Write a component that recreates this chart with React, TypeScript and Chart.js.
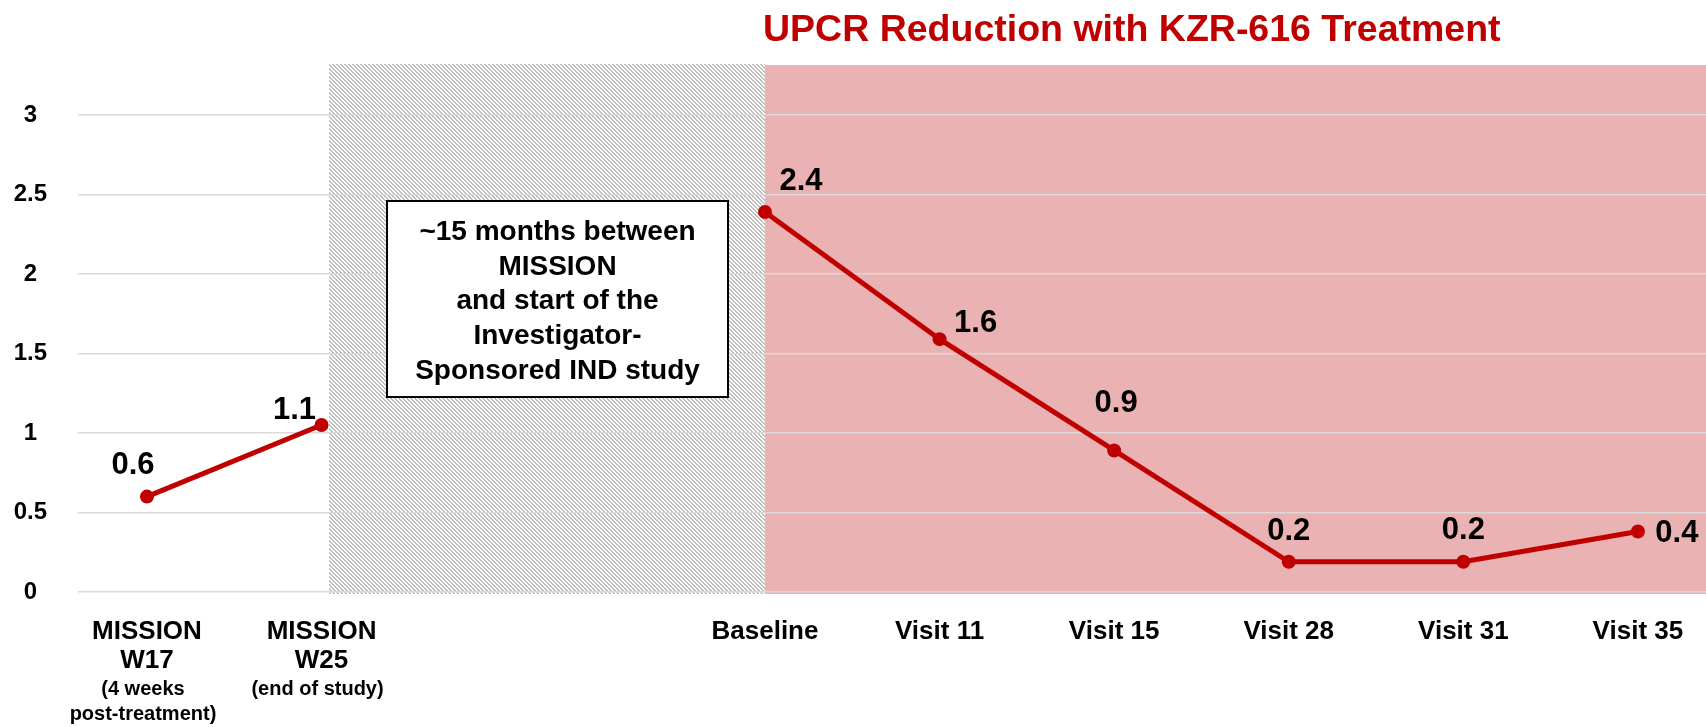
import React, { useEffect, useRef } from 'react';
import { Chart, registerables } from 'chart.js';

Chart.register(...registerables);

// ---------- data ----------
const categories: (string | string[])[] = [
  ['MISSION', 'W17'],
  ['MISSION', 'W25'],
  'Baseline',
  'Visit 11',
  'Visit 15',
  'Visit 28',
  'Visit 31',
  'Visit 35',
];
const categoryNotes: string[][] = [
  ['(4 weeks', 'post-treatment)'],
  ['(end of study)'],
  [], [], [], [], [], [],
];
// slot of each visit along the x axis (visit spacing = 1)
const xSlots = [0, 1, 3.54, 4.54, 5.54, 6.54, 7.54, 8.54];
const upcrValues = [0.6, 1.05, 2.39, 1.59, 0.89, 0.19, 0.19, 0.38];
const valueLabels = ['0.6', '1.1', '2.4', '1.6', '0.9', '0.2', '0.2', '0.4'];
const missionCount = 2; // first points belong to MISSION
const yTicks = [0, 0.5, 1, 1.5, 2, 2.5, 3];
const titleText = 'UPCR Reduction with KZR-616 Treatment';
const noteLines = ['~15 months between', 'MISSION', 'and start of the', 'Investigator-', 'Sponsored IND study'];

// ---------- styles ----------
const FONT = '"Liberation Sans", Arial, Helvetica, sans-serif';
const RED = '#C00000';
const PINK = '#EAB2B2';
const X_MIN = -0.395;
const X_MAX = 8.93;
const Y_MAX = 3.314;
const HATCH_START = 1.04;
// label offsets (dx, dy) in px relative to each point
const labelOffsets = [[-14, -31], [-27, -15], [36, -30], [36, -16], [2, -47], [0, -30], [0, -31], [39, 2]];

function makeHatch(ctx: CanvasRenderingContext2D) {
  const s = 4;
  const c = document.createElement('canvas');
  c.width = s;
  c.height = s;
  const g = c.getContext('2d')!;
  g.fillStyle = '#ffffff';
  g.fillRect(0, 0, s, s);
  g.fillStyle = '#BDBDBD';
  for (let yy = 0; yy < s; yy++) {
    for (let xx = 0; xx < s; xx++) {
      const d = (((xx - yy) % s) + s) % s;
      if (d === 0 || d === 1) g.fillRect(xx, yy, 1, 1);
    }
  }
  return ctx.createPattern(c, 'repeat');
}

const decorPlugin = {
  id: 'decor',
  beforeDraw(chart: any) {
    const { ctx, chartArea, scales } = chart;
    const x = scales.x;
    const hatchL = Math.round(x.getPixelForValue(HATCH_START));
    const baseX = Math.round(x.getPixelForValue(xSlots[missionCount]));
    const top = Math.round(chartArea.top);
    const bottom = Math.round(chartArea.bottom + 2);
    ctx.save();
    const pat = makeHatch(ctx);
    if (pat) ctx.fillStyle = pat;
    ctx.fillRect(hatchL, top - 1, baseX - hatchL, bottom - top + 1);
    ctx.fillStyle = PINK;
    ctx.fillRect(baseX, top, chartArea.right - baseX, bottom - top);
    ctx.restore();
  },
  afterDatasetsDraw(chart: any) {
    const { ctx } = chart;
    ctx.save();
    ctx.font = `bold 31px ${FONT}`;
    ctx.fillStyle = '#000';
    ctx.textAlign = 'center';
    ctx.textBaseline = 'middle';
    let gi = 0;
    chart.data.datasets.forEach((ds: any, di: number) => {
      const meta = chart.getDatasetMeta(di);
      meta.data.forEach((pt: any) => {
        const [dx, dy] = labelOffsets[gi];
        ctx.fillText(valueLabels[gi], pt.x + dx, pt.y + dy);
        gi++;
      });
    });
    ctx.restore();
  },
  afterDraw(chart: any) {
    const { ctx, chartArea, scales } = chart;
    const x = scales.x;
    ctx.save();
    // title
    ctx.font = `bold 37.5px ${FONT}`;
    ctx.fillStyle = RED;
    ctx.textAlign = 'left';
    ctx.textBaseline = 'alphabetic';
    ctx.fillText(titleText, x.getPixelForValue(xSlots[missionCount]) - 2, 41);

    // category notes
    ctx.font = `bold 20px ${FONT}`;
    ctx.fillStyle = '#000';
    ctx.textAlign = 'center';
    categoryNotes.forEach((lines, i) => {
      const px = x.getPixelForValue(xSlots[i]) - 4;
      lines.forEach((ln, j) => {
        ctx.fillText(ln, px, chartArea.bottom + 103 + j * 25);
      });
    });

    // note box
    const bx = 387, by = 201, bw = 341, bh = 196;
    ctx.fillStyle = '#ffffff';
    ctx.fillRect(bx, by, bw, bh);
    ctx.strokeStyle = '#000';
    ctx.lineWidth = 2;
    ctx.strokeRect(bx, by, bw, bh);
    ctx.fillStyle = '#000';
    ctx.font = `bold 28px ${FONT}`;
    noteLines.forEach((ln, i) => {
      ctx.fillText(ln, bx + bw / 2, 240 + i * 34.7);
    });
    ctx.restore();
  },
};

export default function App() {
  const ref = useRef<HTMLCanvasElement>(null);
  useEffect(() => {
    const pts = xSlots.map((xv, i) => ({ x: xv, y: upcrValues[i] }));
    const lineStyle = {
      borderColor: RED,
      backgroundColor: RED,
      borderWidth: 5,
      pointRadius: 7,
      pointHoverRadius: 7,
      pointBorderWidth: 0,
      pointBackgroundColor: RED,
      tension: 0,
      fill: false,
    };
    const chart = new Chart(ref.current!, {
      type: 'line',
      data: {
        datasets: [
          { label: 'MISSION', data: pts.slice(0, missionCount), ...lineStyle },
          { label: 'KZR-616', data: pts.slice(missionCount), ...lineStyle },
        ],
      },
      options: {
        responsive: false,
        animation: false,
        layout: { autoPadding: false, padding: { top: 65, right: 0, left: 0, bottom: 0 } },
        plugins: { legend: { display: false }, title: { display: false }, tooltip: { enabled: false } },
        scales: {
          x: {
            type: 'linear',
            min: X_MIN,
            max: X_MAX,
            grid: { display: false },
            border: { display: false },
            afterBuildTicks: (s: any) => {
              s.ticks = xSlots.map((v) => ({ value: v }));
            },
            afterFit: (s: any) => {
              s.height = 135;
            },
            ticks: {
              autoSkip: false,
              maxRotation: 0,
              minRotation: 0,
              padding: 17,
              color: '#000',
              font: { family: FONT, size: 26, weight: 'bold', lineHeight: 1.12 },
              callback: (_v: any, i: number) => categories[i],
            },
          },
          y: {
            min: 0,
            max: Y_MAX,
            afterBuildTicks: (s: any) => {
              s.ticks = yTicks.map((v) => ({ value: v }));
            },
            afterFit: (s: any) => {
              s.width = 78;
            },
            grid: { color: '#D9D9D9', lineWidth: 1.5, drawTicks: false },
            border: { display: false },
            ticks: {
              crossAlign: 'center',
              padding: 31,
              color: '#000',
              font: { family: FONT, size: 24, weight: 'bold' },
              callback: (v: any) => String(v),
            },
          },
        },
      } as any,
      plugins: [decorPlugin],
    });
    return () => chart.destroy();
  }, []);
  return (
    <div style={{ position: 'absolute', left: 0, top: 0, width: 1706, height: 727, background: '#fff' }}>
      <canvas ref={ref} width={1706} height={727} style={{ display: 'block' }} />
    </div>
  );
}
